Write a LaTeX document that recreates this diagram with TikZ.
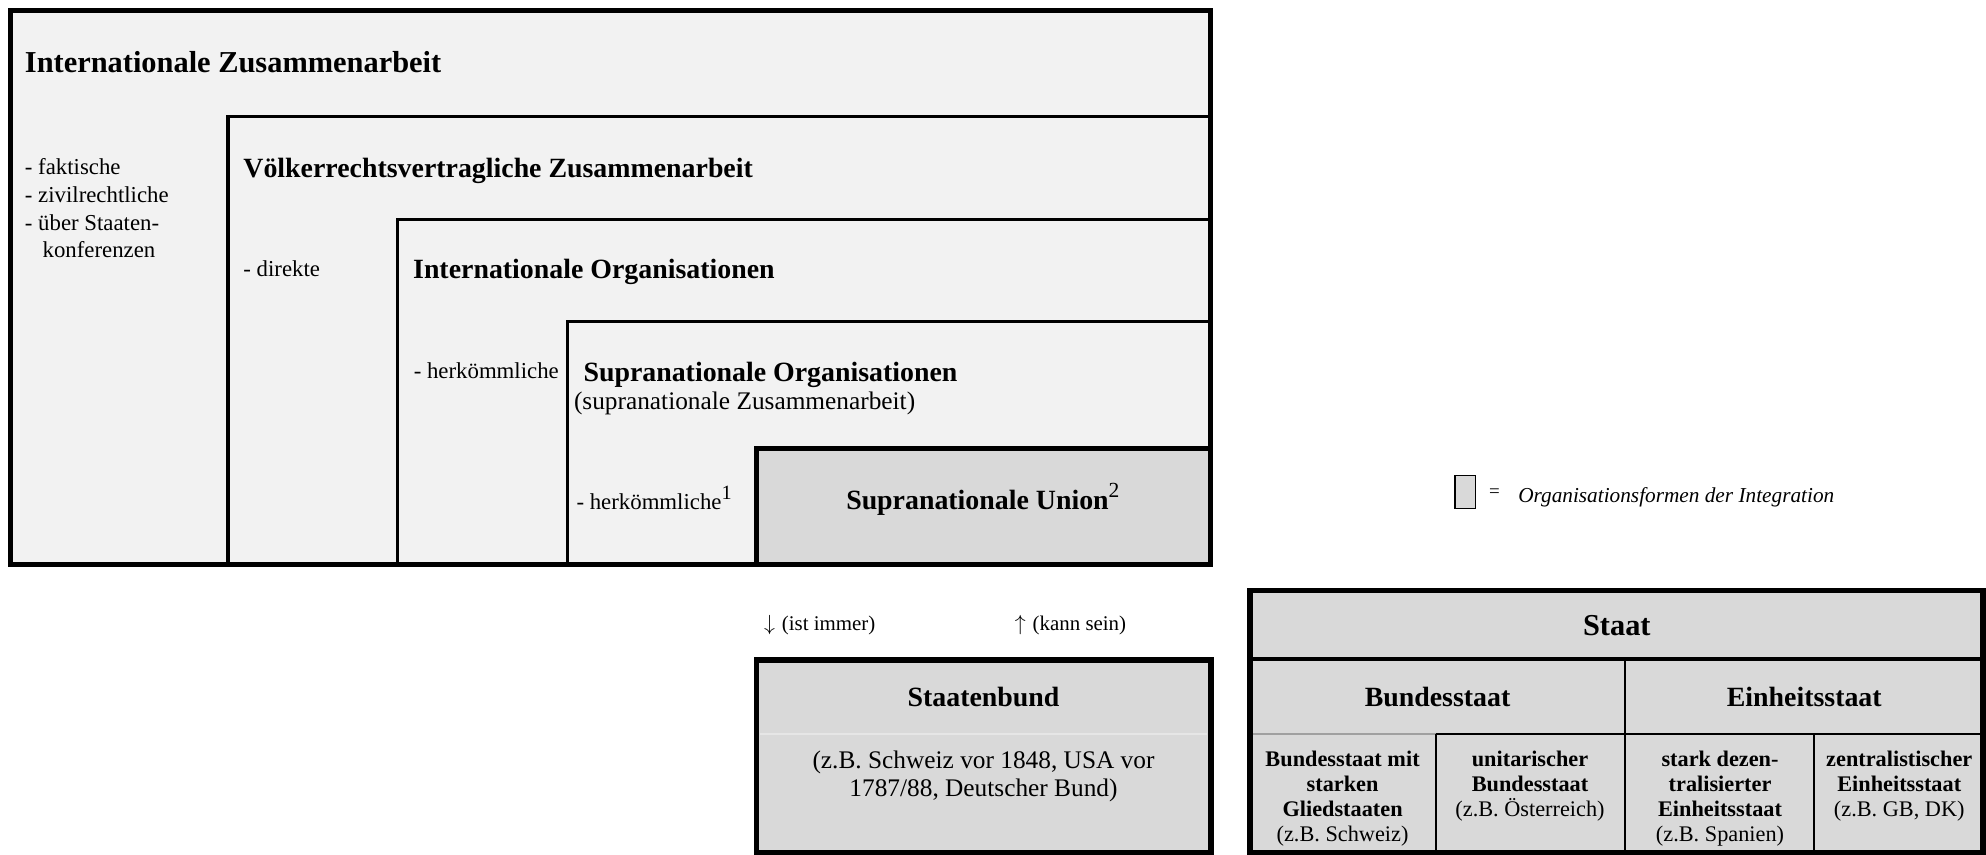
\documentclass[tikz,border=0pt]{standalone}
\usepackage{fontspec}
\setmainfont{Liberation Serif}
\definecolor{lightfill}{HTML}{F2F2F2}
\definecolor{darkfill}{HTML}{D9D9D9}
\definecolor{sepgray}{HTML}{A0A0A0}
\definecolor{faintline}{HTML}{E6E6E6}
\newcommand{\fs}[1]{\fontsize{#1}{#1}\selectfont}
\tikzset{
  outerline/.style={draw=black,line width=4pt},
  nestbox/.style={fill=lightfill,draw=black,line width=2.4pt},
  unionbox/.style={fill=darkfill,draw=black,line width=3.8pt},
  hbig/.style={anchor=base west,inner sep=0pt,font=\fs{24}\bfseries},
  hmid/.style={anchor=base west,inner sep=0pt,font=\fs{22}\bfseries},
  listtxt/.style={anchor=base west,inner sep=0pt,font=\fs{18}},
  paren/.style={anchor=base west,inner sep=0pt,font=\fs{20}},
  smalltxt/.style={anchor=base west,inner sep=0pt,font=\fs{16.5}},
  ctitle/.style={anchor=base,inner sep=0pt,font=\fs{22}\bfseries},
  ctext/.style={anchor=base,inner sep=0pt,font=\fs{20},align=center},
  cell/.style={anchor=base,inner sep=0pt,font=\fs{17.6},align=center},
}
\begin{document}
\begin{tikzpicture}[x=1pt,y=-1pt]
\useasboundingbox (0,0) rectangle (1568,675);
% nested boxes
\fill[lightfill] (8,8) rectangle (956,446);
\draw[nestbox] (180,92) rectangle (956,446);
\draw[nestbox] (314,173.5) rectangle (956,446);
\draw[nestbox] (448,254) rectangle (956,446);
\draw[unionbox] (597,354) rectangle (956,446);
\draw[outerline] (8,8) rectangle (956,446);
% texts
\node[hbig] (iz) at (19.5,57.5) {Internationale Zusammenarbeit};
\node[listtxt] (l1) at (19.5,137.5) {- faktische};
\node[listtxt] (l2) at (19.5,159.5) {- zivilrechtliche};
\node[listtxt] (l3) at (19.5,182) {- über Staaten-};
\node[listtxt] (l4) at (33.5,203.5) {konferenzen};
\node[hmid] (vz) at (192,140) {Völkerrechtsvertragliche Zusammenarbeit};
\node[listtxt] (dir) at (192,218.5) {- direkte};
\node[hmid] (io) at (326,219.5) {Internationale Organisationen};
\node[listtxt] (herk) at (326.5,298.5) {- herkömmliche};
\node[hmid] (so) at (460.5,301) {Supranationale Organisationen};
\node[paren] (sz) at (453,323) {(supranationale Zusammenarbeit)};
\node[listtxt] (herk1) at (455,402) {- herkömmliche\raisebox{0.42em}{\fs{16}1}};
\node[hmid,anchor=base] (su) at (776,402) {Supranationale Union\raisebox{0.42em}{\fs{17}\mdseries 2}};
% legend
\node[draw=black,line width=1.3pt,fill=darkfill,minimum width=16pt,minimum height=26pt,inner sep=0pt] (lgbox) at (1157,388.5) {};
\node[anchor=center,inner sep=0pt,font=\fs{15}] (lgeq) at (1180,389.5) {=};
\node[anchor=base west,inner sep=0pt,font=\fs{16.8}\itshape] (lgtxt) at (1198.5,397) {Organisationsformen der Integration};
% arrows text
\node[smalltxt] (ist) at (603,497.5) {$\downarrow$\,\,(ist immer)};
\node[smalltxt] (kann) at (801,497.5) {$\uparrow$\,\,(kann sein)};
% Staatenbund
\fill[darkfill] (597.5,521) rectangle (956,673.5);
\draw[faintline,line width=1pt] (600,579.5) -- (953,579.5);
\draw[black,line width=4.2pt] (597.5,521) rectangle (956,673.5);
\node[ctitle] (sb) at (776.5,558) {Staatenbund};
\node[ctext] (sb1) at (776.5,607) {(z.B. Schweiz vor 1848, USA vor};
\node[ctext] (sb2) at (776.5,629) {1787/88, Deutscher Bund)};
% Staat table
\fill[darkfill] (987,466) rectangle (1565.5,673.5);
\draw[black,line width=3pt] (987,520.5) -- (1565.5,520.5);
\draw[sepgray,line width=1.2pt] (987,579.5) -- (1133.5,579.5);
\draw[black,line width=1.2pt] (1133.5,579.5) -- (1565.5,579.5);
\draw[black,line width=2pt] (1283,520.5) -- (1283,673.5);
\draw[black,line width=1.3pt] (1133.5,579.5) -- (1133.5,673.5);
\draw[black,line width=1.3pt] (1432,579.5) -- (1432,673.5);
\draw[black,line width=4.2pt] (987,466) rectangle (1565.5,673.5);
\node[anchor=base,inner sep=0pt,font=\fs{24}\bfseries] (st) at (1276.5,502) {Staat};
\node[ctitle] (bs) at (1135,558) {Bundesstaat};
\node[ctitle] (es) at (1424.5,558) {Einheitsstaat};
\node[cell] (c1) at (1060,664) {\textbf{Bundesstaat mit}\\[2pt]\textbf{starken}\\[2pt]\textbf{Gliedstaaten}\\[2pt](z.B. Schweiz)};
\node[cell] (c2) at (1208,644.5) {\textbf{unitarischer}\\[2pt]\textbf{Bundesstaat}\\[2pt](z.B. Österreich)};
\node[cell] (c3) at (1358,664) {\textbf{stark dezen-}\\[2pt]\textbf{tralisierter}\\[2pt]\textbf{Einheitsstaat}\\[2pt](z.B. Spanien)};
\node[cell] (c4) at (1499.5,644.5) {\textbf{zentralistischer}\\[2pt]\textbf{Einheitsstaat}\\[2pt](z.B. GB, DK)};
\end{tikzpicture}
\end{document}
